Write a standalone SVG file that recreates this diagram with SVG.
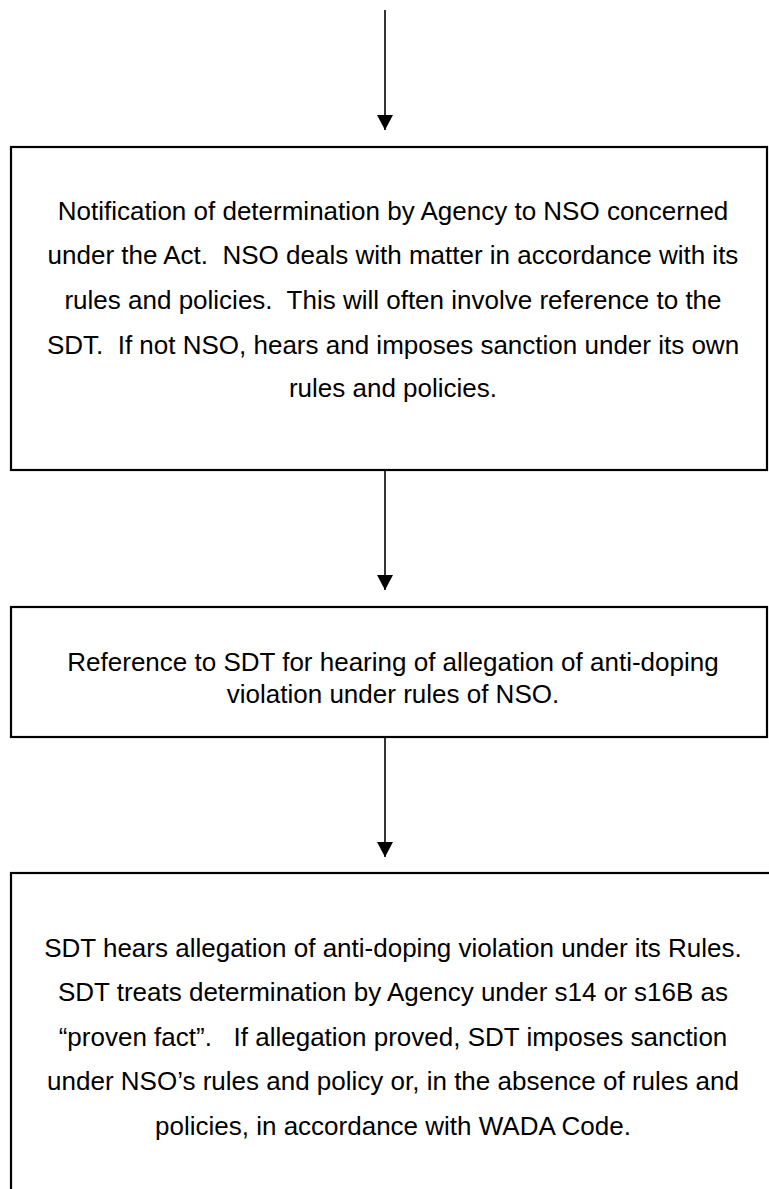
<svg xmlns="http://www.w3.org/2000/svg" width="769" height="1189" viewBox="0 0 769 1189">
<style>
  .box { fill: #ffffff; stroke: #000000; stroke-width: 2.2; }
  .conn { stroke: #000000; stroke-width: 1.6; fill: none; }
  .txt { font-family: "Liberation Sans", Arial, sans-serif; font-size: 26px; fill: #000000; text-anchor: middle; white-space: pre; }
</style>
<defs>
  <marker id="arrow" markerUnits="userSpaceOnUse" markerWidth="16" markerHeight="16" refX="15" refY="8" orient="auto">
    <path d="M0,0 L15,8 L0,16 Z" fill="#000000"/>
  </marker>
</defs>
<rect width="769" height="1189" fill="#ffffff"/>
<g id="connectors">
  <line class="conn" x1="385" y1="10" x2="385" y2="130" marker-end="url(#arrow)"/>
  <line class="conn" x1="385" y1="470" x2="385" y2="590" marker-end="url(#arrow)"/>
  <line class="conn" x1="385" y1="737" x2="385" y2="857" marker-end="url(#arrow)"/>
</g>
<g id="node1">
  <rect class="box" x="11" y="147" width="756" height="323"/>
  <text class="txt" x="393" y="220">Notification of determination by Agency to NSO concerned</text>
  <text class="txt" x="393" y="264">under the Act.  NSO deals with matter in accordance with its</text>
  <text class="txt" x="393" y="309">rules and policies.  This will often involve reference to the</text>
  <text class="txt" x="393" y="354">SDT.  If not NSO, hears and imposes sanction under its own</text>
  <text class="txt" x="393" y="397">rules and policies.</text>
</g>
<g id="node2">
  <rect class="box" x="11" y="607" width="756" height="130"/>
  <text class="txt" x="393" y="671">Reference to SDT for hearing of allegation of anti-doping</text>
  <text class="txt" x="393" y="703">violation under rules of NSO.</text>
</g>
<g id="node3">
  <rect class="box" x="11" y="873" width="770" height="400"/>
  <text class="txt" x="393" y="957">SDT hears allegation of anti-doping violation under its Rules.</text>
  <text class="txt" x="393" y="1001">SDT treats determination by Agency under s14 or s16B as</text>
  <text class="txt" x="393" y="1046">“proven fact”.   If allegation proved, SDT imposes sanction</text>
  <text class="txt" x="393" y="1090">under NSO’s rules and policy or, in the absence of rules and</text>
  <text class="txt" x="393" y="1135">policies, in accordance with WADA Code.</text>
</g>
</svg>
